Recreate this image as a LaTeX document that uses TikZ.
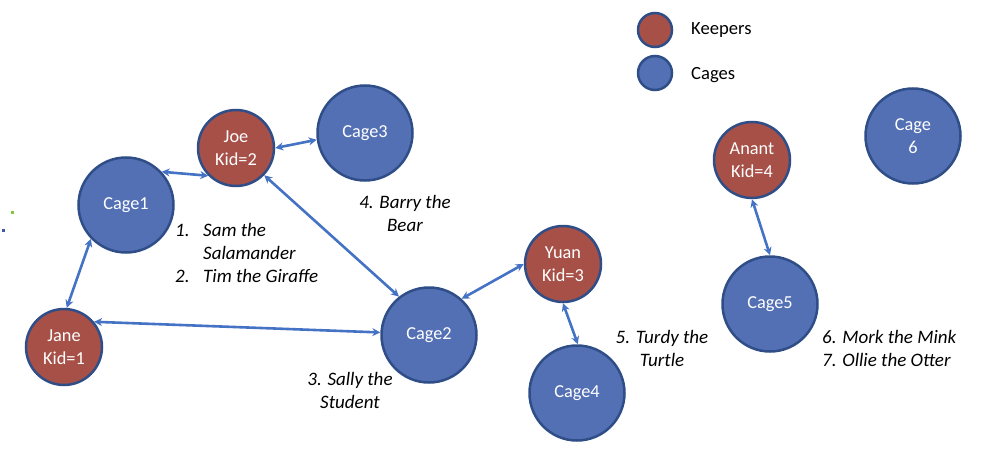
\documentclass[tikz,border=0pt]{standalone}
\usepackage{fontspec}
\setmainfont{Carlito}
\usetikzlibrary{arrows.meta}
\definecolor{keepfill}{RGB}{166,80,72}
\definecolor{cagefill}{RGB}{84,112,180}
\definecolor{rim}{RGB}{47,78,136}
\definecolor{arrowc}{RGB}{68,114,196}
\begin{document}
\begin{tikzpicture}[x=1pt,y=-1pt,
  keeper/.style={circle,draw=rim,line width=2.5pt,fill=keepfill,minimum size=76pt,inner sep=0pt,text=white,align=center,font=\fontsize{18.3}{23}\selectfont},
  cage/.style={circle,draw=rim,line width=2.5pt,fill=cagefill,minimum size=95pt,inner sep=0pt,text=white,align=center,font=\fontsize{18.3}{23}\selectfont},
  legdot/.style={circle,draw=rim,line width=2.5pt,minimum size=34pt,inner sep=0pt},
  legtxt/.style={anchor=base west,inner sep=0pt,font=\fontsize{18.6}{23}\selectfont},
  conn/.style={draw=arrowc,line width=2.6pt,>={Stealth[length=8pt,width=8pt]},<->},
  lbl/.style={inner sep=0pt,font=\fontsize{19}{23}\selectfont\itshape}
]
\useasboundingbox (0,0) rectangle (985,460);
% stray dots
\fill[fill={rgb,255:red,130;green,200;blue,60}] (10.5,210.5) rectangle (13.5,213.5);
\fill[fill={rgb,255:red,60;green,90;blue,160}] (1.5,228.5) rectangle (4.5,231.5);
% legend
\node[legdot,fill=keepfill] (lk) at (655,30) {};
\node[legdot,fill=cagefill] (lc) at (655,73) {};
\node[legtxt] (lkt) at (691,35) {Keepers};
\node[legtxt] (lct) at (691,80) {Cages};
% keepers
\node[keeper] (joe) at (236,148) {Joe\\Kid=2};
\node[keeper] (jane) at (64,347) {Jane\\Kid=1};
\node[keeper] (yuan) at (563,264) {Yuan\\Kid=3};
\node[keeper] (anant) at (752,160) {Anant\\Kid=4};
% cages
\node[cage] (cage1) at (126,205) {Cage1};
\node[cage] (cage2) at (429,335) {Cage2};
\node[cage] (cage3) at (365,133) {Cage3};
\node[cage] (cage4) at (577,393) {Cage4};
\node[cage] (cage5) at (770,304) {Cage5};
\node[cage] (cage6) at (913,136) {Cage\\6};
% connectors
\draw[conn] (cage1.43) -- (joe.225);
\draw[conn] (joe.0) -- (cage3.188);
\draw[conn] (joe.-44) -- (cage2.128);
\draw[conn] (cage1.224) -- (jane.86);
\draw[conn] (jane.40) -- (cage2.177);
\draw[conn] (cage2.48) -- (yuan.180);
\draw[conn] (yuan.-90) -- (cage4.89);
\draw[conn] (anant.-90) -- (cage5.90);
% labels
\node[lbl,anchor=base west] (l1) at (175,236) {\begin{tabular}[t]{@{}p{28pt}@{}l@{}}1.&Sam the\\&Salamander\\2.&Tim the Giraffe\end{tabular}};
\node[lbl,anchor=base] (l4) at (405,208) {\begin{tabular}[t]{@{}c@{}}4. Barry the\\Bear\end{tabular}};
\node[lbl,anchor=base] (l3) at (350,385) {\begin{tabular}[t]{@{}c@{}}3. Sally the\\Student\end{tabular}};
\node[lbl,anchor=base] (l5) at (662,343) {\begin{tabular}[t]{@{}c@{}}5. Turdy the\\Turtle\end{tabular}};
\node[lbl,anchor=base west] (l6) at (822,343) {\begin{tabular}[t]{@{}l@{}}6. Mork the Mink\\7. Ollie the Otter\end{tabular}};
\end{tikzpicture}
\end{document}
